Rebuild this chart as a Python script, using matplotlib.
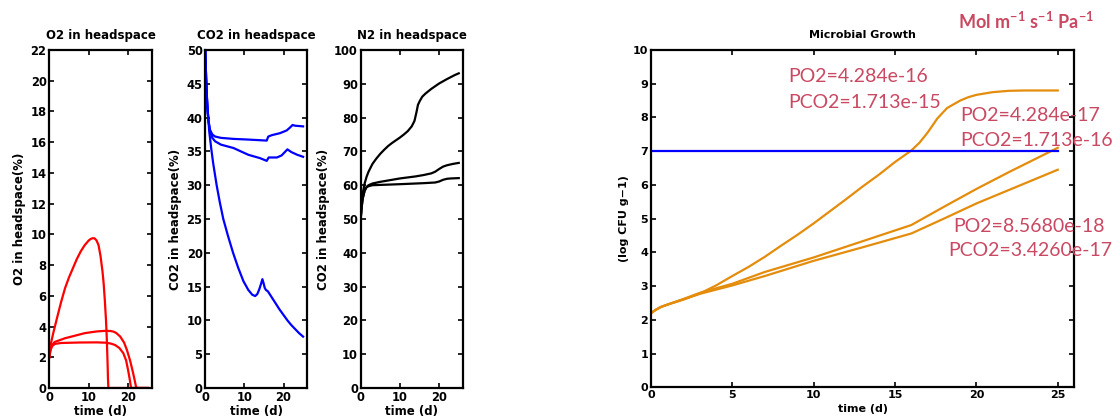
import numpy as np
import matplotlib
matplotlib.use("Agg")
import matplotlib.pyplot as plt

# ---------------- data ----------------
# O2 in headspace (%)
o2_t1 = [0, 0.25, 0.5, 1, 2, 3, 4, 5, 6, 7, 8, 9, 10, 10.5, 11, 11.5, 12, 12.5, 13, 13.5, 13.8, 14.1, 14.4, 14.6, 14.8, 14.9, 15, 20, 25]
o2_v1 = [2.0, 2.6, 3.0, 3.57, 4.6, 5.6, 6.5, 7.2, 7.8, 8.4, 8.9, 9.3, 9.6, 9.7, 9.75, 9.74, 9.6, 9.3, 8.6, 7.6, 6.8, 5.7, 4.4, 3.2, 1.6, 0.6, 0, 0, 0]
o2_t2 = [0, 0.3, 0.7, 1.4, 2.5, 4, 6, 9, 12, 14.2, 15.5, 16.3, 17, 18, 19, 19.7, 20.5, 21.1, 21.6, 22, 22.3, 25]
o2_v2 = [2.0, 2.5, 2.8, 3.0, 3.1, 3.24, 3.37, 3.57, 3.68, 3.72, 3.71, 3.67, 3.58, 3.35, 2.95, 2.48, 1.8, 1.17, 0.6, 0.1, 0, 0]
o2_t3 = [0, 0.3, 0.7, 1.4, 3, 7.4, 12, 14.2, 15.5, 16.7, 17.8, 18.8, 19.5, 20, 20.4, 20.7, 20.8, 25]
o2_v3 = [2.0, 2.45, 2.72, 2.87, 2.93, 2.96, 2.97, 2.95, 2.9, 2.8, 2.6, 2.26, 1.8, 1.17, 0.6, 0.1, 0, 0]

# CO2 in headspace (%)
co2_t1 = [0, 0.2, 0.4, 0.6, 0.8, 1.2, 1.8, 2.5, 4, 7.2, 11, 15.7, 15.9, 16.1, 17, 19.1, 20.8, 21.6, 22.3, 23, 25]
co2_v1 = [50, 46, 43, 41, 39.6, 38.2, 37.5, 37.2, 37.0, 36.85, 36.75, 36.6, 36.9, 37.2, 37.4, 37.7, 38.1, 38.5, 38.9, 38.8, 38.7]
co2_t2 = [0, 0.2, 0.4, 0.6, 0.8, 1.2, 1.8, 2.5, 4, 7.2, 11, 14, 15.7, 15.9, 16.2, 18.3, 19.5, 21, 22, 23.5, 25]
co2_v2 = [50, 46, 43, 41, 39.5, 38.0, 37.0, 36.5, 36.0, 35.5, 34.5, 34.0, 33.6, 33.8, 34.1, 34.1, 34.4, 35.3, 34.9, 34.5, 34.2]
co2_t3 = [0, 0.2, 0.5, 1, 1.5, 2, 2.9, 3.7, 4.6, 5.8, 7.1, 8.4, 9.75, 11, 12, 12.75, 13.3, 13.8, 14.3, 14.6, 14.9, 15.2, 15.5, 16, 17, 18, 19, 20, 21, 22, 23, 24, 25]
co2_v3 = [50, 46, 42, 38, 35.5, 33.3, 30, 27.5, 25, 22.5, 20, 17.8, 15.8, 14.5, 13.8, 13.6, 13.9, 14.6, 15.5, 16.1, 15.5, 14.8, 14.5, 14.3, 13.4, 12.5, 11.6, 10.8, 10.0, 9.3, 8.7, 8.1, 7.6]

# N2 in headspace (%)
n2_t1 = [0, 0.2, 0.5, 1, 1.5, 2, 3, 4, 5, 6, 7, 8, 9, 10, 11, 12, 13, 13.7, 14.2, 14.6, 15.1, 15.7, 16.5, 18, 20, 22, 24, 25]
n2_v1 = [50, 54, 57.5, 60.5, 62.5, 64, 66.3, 67.9, 69.3, 70.5, 71.6, 72.5, 73.3, 74.1, 75, 76, 77.4, 79, 81.5, 83.8, 85, 86.2, 87.1, 88.5, 90.1, 91.4, 92.6, 93.1]
n2_t2 = [0, 0.2, 0.5, 1, 1.5, 2, 3, 5, 10, 14, 16, 18, 19, 20, 21, 22, 23.5, 25]
n2_v2 = [50, 53, 56, 58.5, 59.5, 60, 60.5, 61, 62, 62.6, 63, 63.5, 64, 64.8, 65.5, 65.9, 66.3, 66.6]
n2_t3 = [0, 0.2, 0.5, 1, 1.5, 2, 3, 10, 16, 19, 20, 21, 22, 23, 25]
n2_v3 = [50, 53, 56, 58.3, 59.4, 59.7, 60.0, 60.3, 60.6, 60.8, 61.1, 61.6, 61.9, 62.0, 62.1]

# Microbial growth (log CFU g-1)
mg_t1 = [0, 0.3, 0.6, 1, 2, 3, 4, 5, 6, 7, 8, 9, 10, 11, 12, 13, 14, 15, 16, 16.5, 17, 17.6, 18.2, 19, 19.5, 20, 21, 22, 23, 25]
mg_v1 = [2.2, 2.3, 2.38, 2.45, 2.6, 2.78, 3.02, 3.3, 3.57, 3.87, 4.2, 4.52, 4.86, 5.22, 5.58, 5.95, 6.3, 6.68, 7.02, 7.25, 7.55, 7.97, 8.28, 8.5, 8.6, 8.67, 8.75, 8.79, 8.8, 8.8]
mg_t2 = [0, 0.3, 0.6, 1, 2, 3, 5, 7, 10, 13, 16, 18, 20, 22, 25]
mg_v2 = [2.2, 2.3, 2.38, 2.45, 2.62, 2.8, 3.07, 3.42, 3.85, 4.33, 4.81, 5.35, 5.88, 6.38, 7.1]
mg_t3 = [0, 0.3, 0.6, 1, 2, 3, 5, 7, 10, 13, 16, 18, 20, 22, 25]
mg_v3 = [2.2, 2.3, 2.38, 2.45, 2.61, 2.77, 3.02, 3.3, 3.75, 4.15, 4.56, 5.0, 5.45, 5.85, 6.45]
limit_t = [0, 25]
limit_v = [7, 7]

annot_po2 = ["PO2=4.284e-16", "PO2=4.284e-17", "PO2=8.5680e-18"]
annot_pco2 = ["PCO2=1.713e-15", "PCO2=1.713e-16", "PCO2=3.4260e-17"]
units_text = r"$\mathbf{Mol\ m^{-1}\ s^{-1}\ Pa^{-1}}$"

# ---------------- style ----------------
plt.rcParams['font.family'] = ['DejaVu Sans']
plt.rcParams['font.weight'] = 'bold'
plt.rcParams['mathtext.fontset'] = 'custom'
plt.rcParams['mathtext.rm'] = 'Lato'
plt.rcParams['mathtext.bf'] = 'Lato:bold'
plt.rcParams['mathtext.it'] = 'Lato:italic'

W, H = 1120, 419
fig = plt.figure(figsize=(W / 100, H / 100), dpi=100)

def px_axes(l, r, t, b):
    return fig.add_axes([l / W, (H - b) / H, (r - l) / W, (b - t) / H])

def style(ax, fs=8.3):
    for s in ax.spines.values():
        s.set_linewidth(1.6)
    ax.tick_params(direction='in', top=True, right=True, length=3.5, width=1.2,
                   labelsize=fs, pad=2)

lw = 1.6
fs_lab = 8.5

ax1 = px_axes(49.3, 151.7, 50, 388)
ax1.plot(o2_t1, o2_v1, color='#FF0000', lw=lw)
ax1.plot(o2_t2, o2_v2, color='#FF0000', lw=lw)
ax1.plot(o2_t3, o2_v3, color='#FF0000', lw=lw)
ax1.set_xlim(0, 26); ax1.set_ylim(0, 22)
ax1.set_xticks([0, 10, 20]); ax1.set_yticks(range(0, 23, 2))
ax1.set_title("O2 in headspace", fontsize=fs_lab, fontweight='bold', pad=8)
ax1.set_ylabel("O2 in headspace(%)", fontsize=fs_lab, fontweight='bold', labelpad=3)
ax1.set_xlabel("time (d)", fontsize=fs_lab, fontweight='bold', labelpad=1)
style(ax1)

ax2 = px_axes(205.3, 307, 50, 388)
ax2.plot(co2_t1, co2_v1, color='#0000FF', lw=lw)
ax2.plot(co2_t2, co2_v2, color='#0000FF', lw=lw)
ax2.plot(co2_t3, co2_v3, color='#0000FF', lw=lw)
ax2.set_xlim(0, 26); ax2.set_ylim(0, 50)
ax2.set_xticks([0, 10, 20]); ax2.set_yticks(range(0, 51, 5))
ax2.set_title("CO2 in headspace", fontsize=fs_lab, fontweight='bold', pad=8)
ax2.set_ylabel("CO2 in headspace(%)", fontsize=fs_lab, fontweight='bold', labelpad=3)
ax2.set_xlabel("time (d)", fontsize=fs_lab, fontweight='bold', labelpad=1)
style(ax2)

ax3 = px_axes(360.7, 462.7, 50, 388)
ax3.plot(n2_t1, n2_v1, color='black', lw=lw)
ax3.plot(n2_t2, n2_v2, color='black', lw=lw)
ax3.plot(n2_t3, n2_v3, color='black', lw=lw)
ax3.set_xlim(0, 26); ax3.set_ylim(0, 100)
ax3.set_xticks([0, 10, 20]); ax3.set_yticks(range(0, 101, 10))
ax3.set_title("N2 in headspace", fontsize=fs_lab, fontweight='bold', pad=8)
ax3.set_ylabel("CO2 in headspace(%)", fontsize=fs_lab, fontweight='bold', labelpad=3)
ax3.set_xlabel("time (d)", fontsize=fs_lab, fontweight='bold', labelpad=1)
style(ax3)

orange = '#E48C0C'
ax4 = px_axes(651, 1074, 50, 387.3)
ax4.plot(mg_t1, mg_v1, color=orange, lw=lw)
ax4.plot(mg_t2, mg_v2, color=orange, lw=lw)
ax4.plot(mg_t3, mg_v3, color=orange, lw=lw)
ax4.plot(limit_t, limit_v, color='#0000FF', lw=lw)
ax4.set_xlim(0, 26); ax4.set_ylim(0, 10)
ax4.set_xticks(range(0, 26, 5)); ax4.set_yticks(range(0, 11))
ax4.set_title("Microbial Growth", fontsize=8, fontweight='bold', pad=9)
ax4.set_ylabel("(log CFU g\u22121)", fontsize=8, fontweight='bold', labelpad=3)
ax4.set_xlabel("time (d)", fontsize=8, fontweight='bold', labelpad=3)
style(ax4, fs=8)

tc = '#C94862'
fs_a = 14
kw = dict(color=tc, fontsize=fs_a, family='Lato', fontweight='normal', va='center', ha='left')
fig.text(788 / W, 1 - 77 / H, annot_po2[0], **kw)
fig.text(788 / W, 1 - 103 / H, annot_pco2[0], **kw)
fig.text(960 / W, 1 - 115 / H, annot_po2[1], **kw)
fig.text(960 / W, 1 - 140 / H, annot_pco2[1], **kw)
fig.text(953 / W, 1 - 226 / H, annot_po2[2], **kw)
fig.text(948 / W, 1 - 251 / H, annot_pco2[2], **kw)
fig.text(958 / W, 1 - 22 / H, units_text, color=tc, fontsize=13, va='center', ha='left')

fig.savefig("out.png", dpi=100)
